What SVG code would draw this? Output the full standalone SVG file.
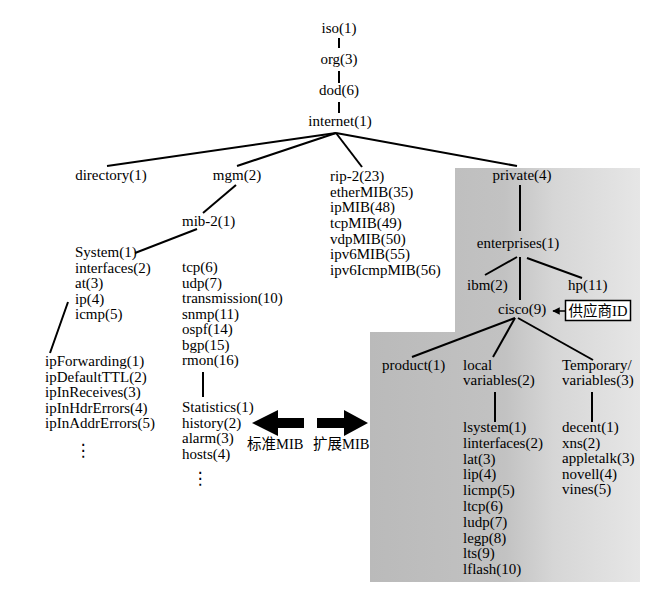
<svg xmlns="http://www.w3.org/2000/svg" width="660" height="601" viewBox="0 0 660 601">
<defs>
<linearGradient id="shade" x1="370" y1="0" x2="640" y2="0" gradientUnits="userSpaceOnUse">
<stop offset="0" stop-color="#bababa"/>
<stop offset="0.5" stop-color="#c2c2c2"/>
<stop offset="0.68" stop-color="#d6d6d6"/>
<stop offset="1" stop-color="#e6e6e6"/>
</linearGradient>
<marker id="ah" viewBox="0 0 10 10" refX="9" refY="5" markerWidth="5" markerHeight="5" orient="auto">
<path d="M0,0 L10,5 L0,10 Z" fill="#000"/>
</marker>
<style>
text{font-family:"Liberation Serif","Noto Sans CJK SC",serif;font-size:15px;fill:#000}
.c{text-anchor:middle}
.cjk{font-size:14.5px}
.dots{font-family:"DejaVu Sans",sans-serif;font-size:17px;text-anchor:middle}
.ln{stroke:#000;stroke-width:2;fill:none}
</style>
</defs>
<rect width="660" height="601" fill="#fff"/>
<path id="shaded-area" d="M455,168 H640 V582 H370 V332 H455 Z" fill="url(#shade)"/>
<g id="connectors">
<line class="ln" x1="339" y1="38" x2="339" y2="48"/>
<line class="ln" x1="339" y1="71" x2="339" y2="83"/>
<line class="ln" x1="339" y1="102" x2="339" y2="113"/>
<line class="ln" x1="336" y1="133" x2="107" y2="166"/>
<line class="ln" x1="336" y1="133" x2="237" y2="166"/>
<line class="ln" x1="336" y1="133" x2="362" y2="167"/>
<line class="ln" x1="336" y1="133" x2="517" y2="166"/>
<line class="ln" x1="236" y1="185" x2="203" y2="213"/>
<line class="ln" x1="197" y1="229" x2="135" y2="253"/>
<line class="ln" x1="68" y1="302" x2="50" y2="353"/>
<line class="ln" x1="203" y1="372" x2="203" y2="397"/>
<line class="ln" x1="520" y1="185" x2="520" y2="231"/>
<line class="ln" x1="517" y1="257" x2="485" y2="275"/>
<line class="ln" x1="527" y1="258" x2="582" y2="278"/>
<line class="ln" x1="520" y1="257" x2="520" y2="300"/>
<line class="ln" x1="515" y1="318" x2="412" y2="357"/>
<line class="ln" x1="515" y1="318" x2="493" y2="357"/>
<line class="ln" x1="518" y1="318" x2="593" y2="360"/>
<line class="ln" x1="495" y1="392" x2="495" y2="422"/>
<line class="ln" x1="592" y1="392" x2="592" y2="422"/>
<line stroke="#000" stroke-width="1.5" x1="565" y1="311" x2="553" y2="311" marker-end="url(#ah)"/>
<path id="arrow-left" d="M252,423 L278,410 L278,418 L304,418 L304,428 L278,428 L278,436 Z" fill="#000"/>
<path id="arrow-right" d="M368,423 L344,410 L344,418 L317,418 L317,428 L344,428 L344,436 Z" fill="#000"/>
</g>
<g id="iso"><text class="c" x="339" y="33">iso(1)</text></g>
<g id="org"><text class="c" x="339" y="64">org(3)</text></g>
<g id="dod"><text class="c" x="339" y="95">dod(6)</text></g>
<g id="internet"><text class="c" x="340" y="126">internet(1)</text></g>
<g id="directory"><text class="c" x="111" y="180">directory(1)</text></g>
<g id="mgm"><text class="c" x="237" y="180">mgm(2)</text></g>
<g id="mib2"><text x="182" y="226">mib-2(1)</text></g>
<g id="experimental-list"><text x="330" y="181"><tspan x="330">rip-2(23)</tspan><tspan x="330" dy="15.67">etherMIB(35)</tspan><tspan x="330" dy="15.67">ipMIB(48)</tspan><tspan x="330" dy="15.67">tcpMIB(49)</tspan><tspan x="330" dy="15.67">vdpMIB(50)</tspan><tspan x="330" dy="15.67">ipv6MIB(55)</tspan><tspan x="330" dy="15.67">ipv6IcmpMIB(56)</tspan></text></g>
<g id="system-list"><text x="75" y="257"><tspan x="75">System(1)</tspan><tspan x="75" dy="15.5">interfaces(2)</tspan><tspan x="75" dy="15.5">at(3)</tspan><tspan x="75" dy="15.5">ip(4)</tspan><tspan x="75" dy="15.5">icmp(5)</tspan></text></g>
<g id="tcp-list"><text x="182" y="272"><tspan x="182">tcp(6)</tspan><tspan x="182" dy="15.5">udp(7)</tspan><tspan x="182" dy="15.5">transmission(10)</tspan><tspan x="182" dy="15.5">snmp(11)</tspan><tspan x="182" dy="15.5">ospf(14)</tspan><tspan x="182" dy="15.5">bgp(15)</tspan><tspan x="182" dy="15.5">rmon(16)</tspan></text></g>
<g id="ip-list"><text x="45" y="366"><tspan x="45">ipForwarding(1)</tspan><tspan x="45" dy="15.5">ipDefaultTTL(2)</tspan><tspan x="45" dy="15.5">ipInReceives(3)</tspan><tspan x="45" dy="15.5">ipInHdrErrors(4)</tspan><tspan x="45" dy="15.5">ipInAddrErrors(5)</tspan></text><text class="dots" x="83" y="456">⋮</text></g>
<g id="rmon-list"><text x="182" y="412"><tspan x="182">Statistics(1)</tspan><tspan x="182" dy="15.5">history(2)</tspan><tspan x="182" dy="15.5">alarm(3)</tspan><tspan x="182" dy="15.5">hosts(4)</tspan></text><text class="dots" x="200" y="484">⋮</text></g>
<g id="std-label"><text class="cjk" x="247" y="449">标准MIB</text></g>
<g id="ext-label"><text class="cjk" x="313" y="449">扩展MIB</text></g>
<g id="private"><text class="c" x="522" y="180">private(4)</text></g>
<g id="enterprises"><text class="c" x="518" y="248">enterprises(1)</text></g>
<g id="ibm"><text x="467" y="290">ibm(2)</text></g>
<g id="hp"><text x="568" y="290">hp(11)</text></g>
<g id="cisco"><text x="498" y="314">cisco(9)</text></g>
<g id="vendor-id"><rect x="565.5" y="300.5" width="65" height="20" fill="#fff" stroke="#000" stroke-width="1.5"/><text class="cjk c" x="598" y="316">供应商ID</text></g>
<g id="product"><text x="382" y="370">product(1)</text></g>
<g id="local-variables"><text x="463" y="370"><tspan x="463">local</tspan><tspan x="463" dy="15">variables(2)</tspan></text></g>
<g id="temporary-variables"><text x="562" y="370"><tspan x="562">Temporary/</tspan><tspan x="562" dy="15">variables(3)</tspan></text></g>
<g id="local-list"><text x="463" y="432"><tspan x="463">lsystem(1)</tspan><tspan x="463" dy="15.8">linterfaces(2)</tspan><tspan x="463" dy="15.8">lat(3)</tspan><tspan x="463" dy="15.8">lip(4)</tspan><tspan x="463" dy="15.8">licmp(5)</tspan><tspan x="463" dy="15.8">ltcp(6)</tspan><tspan x="463" dy="15.8">ludp(7)</tspan><tspan x="463" dy="15.8">legp(8)</tspan><tspan x="463" dy="15.8">lts(9)</tspan><tspan x="463" dy="15.8">lflash(10)</tspan></text></g>
<g id="temporary-list"><text x="562" y="432"><tspan x="562">decent(1)</tspan><tspan x="562" dy="15.6">xns(2)</tspan><tspan x="562" dy="15.6">appletalk(3)</tspan><tspan x="562" dy="15.6">novell(4)</tspan><tspan x="562" dy="15.6">vines(5)</tspan></text></g>
</svg>
